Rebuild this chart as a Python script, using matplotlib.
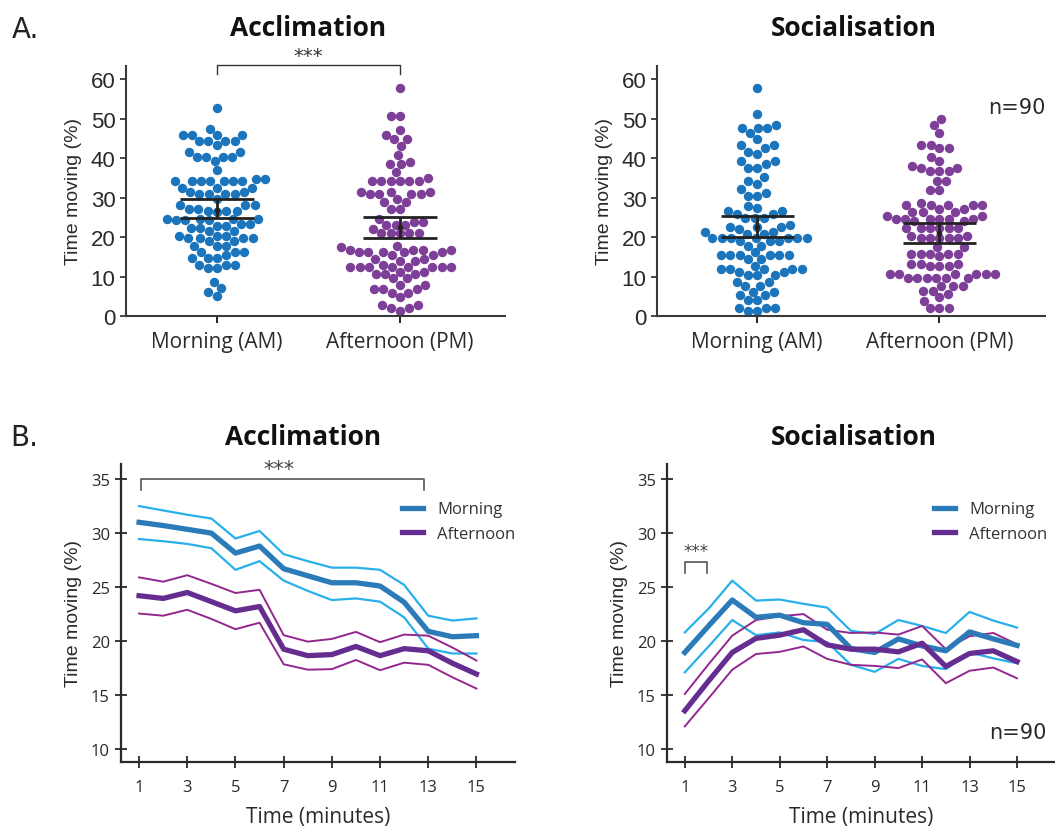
import numpy as np
import matplotlib.pyplot as plt

# ---------------- data ----------------
groups = ['Morning (AM)', 'Afternoon (PM)']

# time moving (%) per fish, acclimation phase
acc_am = ([52.7, 47.3] + [45.8] * 4 + [44.2] * 4 + [43.2] + [41.5] * 2 + [40.2] * 4 + [39.2, 36.9]
          + [34.7] * 2 + [34.2] * 7 + [32.5] * 3 + [31.5] * 2 + [30.8] * 4 + [29.7] + [28.0] * 3
          + [27.0] * 2 + [26.7] * 3 + [26.3] + [24.6] * 4 + [24.2] * 3 + [23.3] * 2 + [22.9] * 2
          + [22.2] * 2 + [21.6] * 2 + [20.3] * 3 + [19.7] * 4 + [19.0] * 2 + [17.8] * 3 + [16.3] * 3
          + [15.4] + [14.6] * 3 + [12.9] * 3 + [12.2] * 2 + [8.6, 7.2, 6.1, 5.1])
acc_pm = ([57.8] + [50.7] * 2 + [47.2, 45.8] + [44.7] * 2 + [43.0, 40.7, 39.0] + [38.4] * 2
          + [36.4, 35.0] + [34.3] * 6 + [31.4] * 3 + [30.8] * 4 + [29.7] + [28.8] * 2 + [27.0] * 2
          + [24.6] + [23.9] * 2 + [23.0] * 3 + [22.0] + [20.9] * 5 + [17.6, 17.4] + [16.8] * 4
          + [16.1] * 5 + [15.4] * 2 + [14.4] * 2 + [14.0] * 2 + [13.0] + [12.3] * 8 + [11.2] * 2
          + [10.6] * 3 + [9.5] * 2 + [7.8] * 2 + [6.9] * 3 + [5.8] * 2 + [4.7] + [2.7] * 2
          + [1.9] * 2 + [1.3])

# time moving (%) per fish, socialisation phase
soc_am = ([57.8, 51.1, 48.3] + [47.7] * 3 + [46.4, 44.9] + [43.2] * 2 + [42.5, 41.5, 41.1]
          + [39.2] * 2 + [38.4] + [37.5] * 2 + [35.2, 34.1, 33.5, 32.2, 31.2] + [30.5] * 2
          + [27.8, 27.4] + [26.5] * 2 + [25.8] * 2 + [24.8] * 3 + [23.0] + [22.5] * 3 + [22.0]
          + [21.2] * 2 + [20.8] * 2 + [19.7] * 7 + [18.9] * 3 + [17.8] * 2 + [16.1] + [15.4] * 6
          + [14.4] * 2 + [12.7] + [12.0] * 5 + [11.2] * 2 + [10.4] * 3 + [8.6] * 2 + [7.6] * 2
          + [6.1] * 2 + [5.3] * 2 + [4.0] * 2 + [2.1] * 3 + [1.3] * 2)
soc_pm = ([49.8, 48.3, 46.4] + [43.4] * 2 + [42.5] * 2 + [40.3, 39.2, 38.1] + [37.5] * 2
          + [36.6] * 3 + [34.3] * 2 + [32.0] * 2 + [28.6] + [28.1] * 5 + [27.1] * 2 + [26.3] * 3
          + [25.4] * 2 + [24.6] * 6 + [24.0] * 2 + [22.2] * 6 + [20.3] * 2 + [19.7] * 5
          + [17.4] * 2 + [15.7] * 5 + [15.1] + [13.1] * 3 + [12.7] * 3 + [10.6] * 6 + [9.5] * 6
          + [7.5] * 3 + [6.4] * 2 + [5.5, 4.7, 3.8] + [1.9] * 3)

# mean and 95% CI per group
acc_mean = [26.8, 22.5]
acc_ci_lo = [24.8, 19.7]
acc_ci_hi = [29.6, 25.1]
soc_mean = [22.6, 21.1]
soc_ci_lo = [20.0, 18.6]
soc_ci_hi = [25.2, 23.6]

# per-minute time course (mean, lower / upper CI)
minutes = np.arange(1, 16)
acc_am_mean = [31.0, 30.7, 30.35, 30.0, 28.15, 28.8, 26.7, 26.05, 25.4, 25.4, 25.1, 23.6, 20.9, 20.4, 20.5]
acc_am_hi = [32.5, 32.1, 31.7, 31.35, 29.5, 30.2, 28.05, 27.4, 26.8, 26.8, 26.6, 25.2, 22.35, 21.9, 22.1]
acc_am_lo = [29.45, 29.25, 29.0, 28.6, 26.6, 27.4, 25.6, 24.65, 23.8, 23.95, 23.65, 22.2, 19.3, 18.85, 18.85]
acc_pm_mean = [24.2, 23.95, 24.5, 23.65, 22.8, 23.2, 19.25, 18.65, 18.75, 19.5, 18.65, 19.3, 19.1, 17.95, 16.95]
acc_pm_hi = [25.9, 25.5, 26.1, 25.3, 24.45, 24.75, 20.55, 19.95, 20.2, 20.85, 19.9, 20.6, 20.5, 19.4, 18.2]
acc_pm_lo = [22.55, 22.35, 22.9, 22.05, 21.1, 21.7, 17.85, 17.35, 17.4, 18.25, 17.3, 18.0, 17.8, 16.65, 15.6]

soc_am_mean = [18.95, 21.4, 23.8, 22.2, 22.4, 21.7, 21.55, 19.3, 18.95, 20.2, 19.55, 19.1, 20.85, 20.2, 19.6]
soc_am_hi = [20.8, 23.0, 25.6, 23.75, 23.85, 23.45, 23.1, 20.95, 20.65, 21.95, 21.4, 20.75, 22.7, 21.9, 21.25]
soc_am_lo = [17.1, 19.5, 21.95, 20.55, 20.8, 20.1, 19.9, 17.8, 17.15, 18.35, 17.7, 17.4, 18.95, 18.4, 17.95]
soc_pm_mean = [13.55, 16.3, 18.95, 20.25, 20.55, 21.05, 19.65, 19.25, 19.25, 19.0, 19.8, 17.65, 18.85, 19.1, 18.1]
soc_pm_hi = [15.1, 17.85, 20.5, 21.95, 22.3, 22.5, 21.05, 20.75, 20.8, 20.6, 21.4, 19.25, 20.45, 20.75, 19.7]
soc_pm_lo = [12.1, 14.7, 17.35, 18.8, 19.0, 19.5, 18.35, 17.8, 17.7, 17.5, 18.3, 16.1, 17.25, 17.55, 16.55]

# ---------------- style ----------------
BLUE_DOT = '#1b75bc'
PURPLE_DOT = '#7e3f98'
BLUE_THICK = '#2b7bb9'
BLUE_THIN = '#27b0ea'
PURPLE_THICK = '#662d91'
PURPLE_THIN = '#93278f'
INK = '#2a2a2a'
DPI = 100
W, H = 1055, 828


def ax_rect(left, top, right, bottom):
    # pixel box -> figure fraction
    return [left / W, 1 - bottom / H, (right - left) / W, (bottom - top) / H]


def swarm(vals, d, px_per_unit):
    # simple beeswarm: returns horizontal pixel offsets for each value
    vals = np.asarray(vals, dtype=float)
    offs = np.zeros(len(vals))
    placed = []
    for i in np.argsort(vals, kind='stable'):
        y = vals[i] * px_per_unit
        near = [(px, py) for px, py in placed if abs(py - y) < d]
        cands = [0.0]
        for px, py in near:
            dx = np.sqrt(d * d - (py - y) ** 2)
            cands += [px + dx, px - dx]
        cands.sort(key=lambda c: (round(abs(c), 3), c))
        for c in cands:
            if all((c - px) ** 2 + (y - py) ** 2 >= d * d - 1e-6 for px, py in near):
                break
        placed.append((c, y))
        offs[i] = c
    return offs


fig = plt.figure(figsize=(W / DPI, H / DPI), dpi=DPI)


def dot_panel(rect, data, means, lo, hi, xlim, ylim):
    ax = fig.add_axes(rect)
    ax.set_xlim(*xlim)
    ax.set_ylim(*ylim)
    bb = ax.get_window_extent()
    xpx = bb.width / (xlim[1] - xlim[0])
    ypx = bb.height / (ylim[1] - ylim[0])
    d = 9.4
    for k, (vals, col) in enumerate(zip(data, [BLUE_DOT, PURPLE_DOT])):
        off = swarm(vals, d, ypx) / xpx
        ax.scatter(k + off, vals, s=(d * 72 / DPI) ** 2, color=col, lw=0, zorder=2, clip_on=False)
    for k in range(2):
        ax.hlines([lo[k], hi[k]], k - 0.2, k + 0.2, color='#222222', lw=2, zorder=3)
        ax.vlines(k, lo[k], hi[k], color='#222222', lw=2, zorder=3)
        ax.plot(k, means[k], 'o', color='#222222', ms=3, zorder=4)
    ax.set_xticks([0, 1])
    ax.set_xticklabels(groups, fontsize=15, family='Open Sans', color=INK)
    ax.set_yticks(range(0, 61, 10))
    ax.tick_params(axis='y', labelsize=16, colors=INK, length=4, width=1.2)
    ax.tick_params(axis='x', length=5, width=1.2, pad=6)
    for lab in ax.get_yticklabels():
        lab.set_family('Liberation Sans')
    for s in ['top', 'right']:
        ax.spines[s].set_visible(False)
    for s in ['left', 'bottom']:
        ax.spines[s].set_color('#3a3a3a')
        ax.spines[s].set_linewidth(1.5)
    ax.set_ylabel('Time moving (%)', fontsize=14, family='Liberation Sans', color=INK, labelpad=6)
    return ax


def line_panel(rect, am, pm, leg_x):
    ax = fig.add_axes(rect)
    ax.plot(minutes, am[1], color=BLUE_THIN, lw=1.6, zorder=2)
    ax.plot(minutes, am[2], color=BLUE_THIN, lw=1.6, zorder=2)
    ax.plot(minutes, pm[1], color=PURPLE_THIN, lw=1.4, zorder=2)
    ax.plot(minutes, pm[2], color=PURPLE_THIN, lw=1.4, zorder=2)
    ax.plot(minutes, am[0], color=BLUE_THICK, lw=3.8, zorder=3, label='Morning')
    ax.plot(minutes, pm[0], color=PURPLE_THICK, lw=3.8, zorder=4, label='Afternoon')
    ax.set_xlim(0.25, 16.6)
    ax.set_ylim(8.8, 36.4)
    ax.set_xticks(range(1, 16, 2))
    ax.set_yticks(range(10, 36, 5))
    ax.tick_params(direction='inout', length=9, width=1.3, colors=INK, labelsize=12)
    ax.tick_params(axis='x', pad=8)
    for lab in ax.get_xticklabels() + ax.get_yticklabels():
        lab.set_family('Open Sans')
    for s in ['top', 'right']:
        ax.spines[s].set_visible(False)
    for s in ['left', 'bottom']:
        ax.spines[s].set_color('#2a2a2a')
        ax.spines[s].set_linewidth(1.6)
    ax.set_xlabel('Time (minutes)', fontsize=15, family='Open Sans', color=INK, labelpad=8)
    ax.set_ylabel('Time moving (%)', fontsize=14, family='Liberation Sans', color=INK, labelpad=6)
    leg = ax.legend(loc='upper left', bbox_to_anchor=(leg_x, 0.925), frameon=False,
                    handlelength=1.25, handletextpad=0.85, labelspacing=0.5,
                    prop={'family': 'Open Sans', 'size': 12})
    for t in leg.get_texts():
        t.set_color('#333333')
    return ax


# ---------------- panel A ----------------
ax1 = dot_panel(ax_rect(126, 67, 505, 317), [acc_am, acc_pm], acc_mean, acc_ci_lo, acc_ci_hi,
                (-0.497, 1.574), (0, 63.3))
ax1.plot([0, 0, 1, 1], [61.4, 63.5, 63.5, 61.4], color='#333333', lw=1, clip_on=False)
ax1.text(0.5, 63.6, '***', ha='center', va='bottom', fontsize=14, color='#333333')

ax2 = dot_panel(ax_rect(657, 67, 1045, 317), [soc_am, soc_pm], soc_mean, soc_ci_lo, soc_ci_hi,
                (-0.55, 1.58), (0, 63.3))
ax2.text(1.58, 53, 'n=90', ha='right', va='center', fontsize=15, color=INK)

# ---------------- panel B ----------------
ax3 = line_panel(ax_rect(121, 465, 515, 763), [acc_am_mean, acc_am_lo, acc_am_hi],
                 [acc_pm_mean, acc_pm_lo, acc_pm_hi], 0.675)
ax3.plot([1.1, 1.1, 12.83, 12.83], [34.0, 35.0, 35.0, 34.0], color='#555555', lw=1.2)
ax3.text(6.8, 35.05, '***', ha='center', va='bottom', fontsize=15, color='#444444')

ax4 = line_panel(ax_rect(667, 465, 1055, 763), [soc_am_mean, soc_am_lo, soc_am_hi],
                 [soc_pm_mean, soc_pm_lo, soc_pm_hi], 0.65)
ax4.plot([1.0, 1.0, 1.94, 1.94], [26.35, 27.35, 27.35, 26.35], color='#555555', lw=1.2)
ax4.text(1.47, 27.5, '***', ha='center', va='bottom', fontsize=12, color='#444444')
ax4.text(16.25, 11.6, 'n=90', ha='right', va='center', fontsize=15, color=INK)

# ---------------- titles ----------------
for x, y, t in [(308, 28, 'Acclimation'), (854, 28, 'Socialisation'),
                (303, 438, 'Acclimation'), (854, 438, 'Socialisation')]:
    fig.text(x / W, 1 - y / H, t, ha='center', va='center', fontsize=19,
             fontweight='bold', family='Open Sans', color='#111111')
fig.text(12 / W, 1 - 30 / H, 'A.', ha='left', va='center', fontsize=20, color='#222222')
fig.text(10 / W, 1 - 438 / H, 'B.', ha='left', va='center', fontsize=20, color='#222222')

fig.savefig('out.png', dpi=DPI)
